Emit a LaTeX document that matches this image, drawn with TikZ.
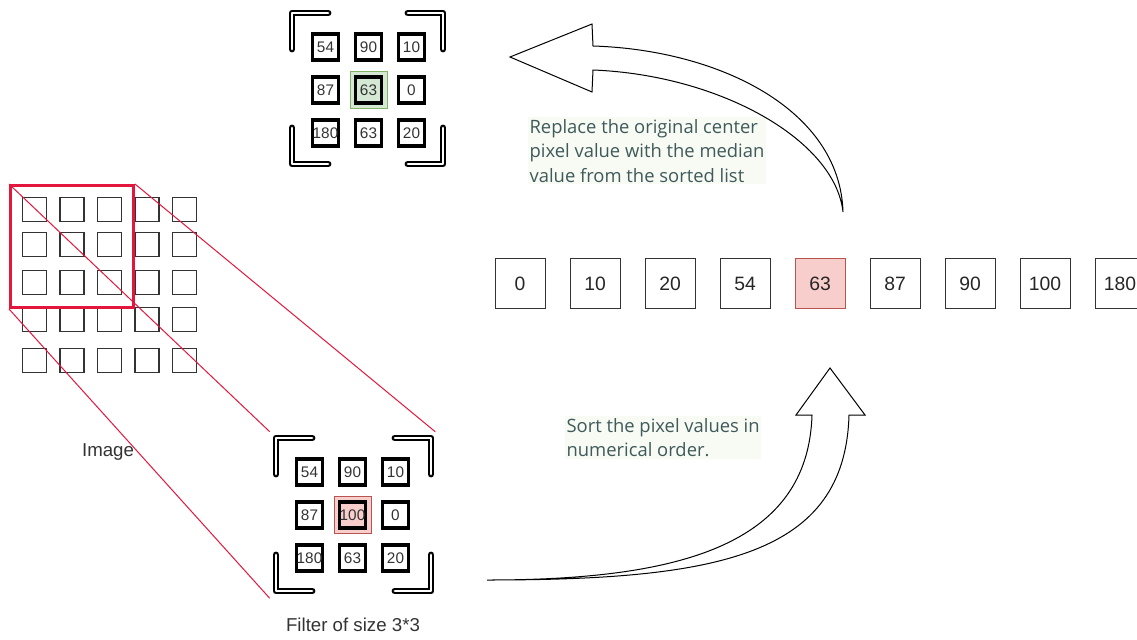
\documentclass[tikz,border=0pt]{standalone}
\usepackage{fontspec}
\setmainfont{Liberation Sans}
\newfontfamily\notefont{Open Sans}
\definecolor{winred}{HTML}{E3173E}
\definecolor{pinkfill}{HTML}{F8CECC}
\definecolor{pinkline}{HTML}{B85450}
\definecolor{greenfill}{HTML}{D5E8D4}
\definecolor{greenline}{HTML}{82B366}
\definecolor{notetext}{HTML}{3F5A5A}
\definecolor{noteback}{HTML}{F8FAF4}
\tikzset{
  imgcell/.style={draw=black!80, line width=.9pt, minimum size=18pt, inner sep=0pt},
  fcell/.style={draw=black, line width=2.4pt, minimum size=19.5pt, inner sep=0pt,
    text=black!80, font=\fontsize{11.5}{12}\selectfont},
  fmark/.style={line width=.75pt, minimum size=27.75pt, inner sep=0pt},
  frame/.style={minimum width=123.75pt, minimum height=124.5pt, inner sep=0pt},
  bracket/.style={draw=black, line width=1.5pt, double=white, double distance=2.2pt,
    line cap=round, line join=round},
  sortbox/.style={draw=black!80, line width=.75pt, minimum size=37.5pt, inner sep=0pt,
    text=black!85, font=\fontsize{14.5}{15}\selectfont},
  sortmed/.style={sortbox, draw=pinkline, fill=pinkfill},
  label/.style={text=black!80, font=\fontsize{14}{16}\selectfont},
  note/.style={fill=noteback, text=notetext, align=left, inner xsep=1pt, inner ysep=1.5pt,
    font=\notefont\fontsize{13.8}{18.4}\selectfont},
  flex/.style={draw=black, line width=.75pt, line join=miter}
}
\begin{document}
\begin{tikzpicture}[x=.75pt, y=-.75pt]
\useasboundingbox (0,0) rectangle (1137,639);
\clip (0,0) rectangle (1137,639);

% image
\foreach \r/\y in {1/209.5,2/244.5,3/282.5,4/319.5,5/360.5}
  \foreach \c in {1,...,5}
    \node[imgcell] (im-\r-\c) at ({-3+37.5*\c},\y) {};
\node[draw=winred, line width=2.25pt, minimum width=92.25pt, minimum height=91.5pt, inner sep=0pt] (win) at (72,246.5) {};
\node[label] (imglabel) at (108,452) {Image};

% filter 3*3
\begin{scope}[shift={(352.5,515)}]
  \node[frame] (filt) at (0,0) {};
  \draw[bracket] (-76.5,-41) -- (-76.5,-77) -- (-40.5,-77);
  \draw[bracket] (42.5,-77) -- (78.5,-77) -- (78.5,-41);
  \draw[bracket] (-76.5,40) -- (-76.5,76) -- (-40.5,76);
  \draw[bracket] (42.5,76) -- (78.5,76) -- (78.5,40);
  \node[fmark, draw=pinkline, fill=pinkfill] (fmid) at (0,0) {};
  \foreach \v/\x/\y/\n in {54/-43/-43/a, 90/0/-43/b, 10/43/-43/c,
                          87/-43/0/d, 100/0/0/e, 0/43/0/f,
                          180/-43/43/g, 63/0/43/h, 20/43/43/i}
    \node[fcell] (f-\n) at (\x,\y) {\v};
\end{scope}
\node[label] (filtlabel) at (353,625) {Filter of size 3*3};

\draw[winred, line width=.75pt] (win.north west) -- (filt.north west);
\draw[winred, line width=.75pt] (win.north east) -- (filt.north east);
\draw[winred, line width=.75pt] (win.south west) -- (filt.south west);

% filtered result
\begin{scope}[shift={(368.5,90)}]
  \draw[bracket] (-76.5,-41) -- (-76.5,-77) -- (-40.5,-77);
  \draw[bracket] (39.5,-77) -- (74.5,-77) -- (74.5,-41);
  \draw[bracket] (-76.5,38) -- (-76.5,74) -- (-40.5,74);
  \draw[bracket] (39.5,74) -- (74.5,74) -- (74.5,38);
  \node[fmark, draw=greenline, fill=greenfill] (rmid) at (0,0) {};
  \foreach \v/\x/\y/\n in {54/-43/-43/a, 90/0/-43/b, 10/43/-43/c,
                          87/-43/0/d, 63/0/0/e, 0/43/0/f,
                          180/-43/43/g, 63/0/43/h, 20/43/43/i}
    \node[fcell] (r-\n) at (\x,\y) {\v};
\end{scope}

% sorted list
\foreach \v/\st [count=\i from 0] in {0/sortbox, 10/sortbox, 20/sortbox, 54/sortbox,
    63/sortmed, 87/sortbox, 90/sortbox, 100/sortbox, 180/sortbox}
  \node[\st] (s\i) at (520+75*\i,283.5) {\v};

% notes
\node[note, anchor=north west] (sortnote) at (565,416)
  {Sort the pixel values in\\numerical order.};
\node[note, anchor=north west] (replnote) at (528,117)
  {Replace the original center\\pixel value with the median\\value from the sorted list};

% arrows
\draw[flex] (487,580) .. controls (680,580) and (808,545) .. (812,415)
  -- (796,415) -- (830,368) -- (865,415) -- (849,415)
  .. controls (845,555) and (720,580) .. (487,580) -- cycle;
\draw[flex] (593,46) .. controls (720,50) and (840,110) .. (843,212)
  .. controls (835,140) and (720,75) .. (593,70)
  -- (592,92) -- (510,57) -- (592,24) -- cycle;
\end{tikzpicture}
\end{document}
